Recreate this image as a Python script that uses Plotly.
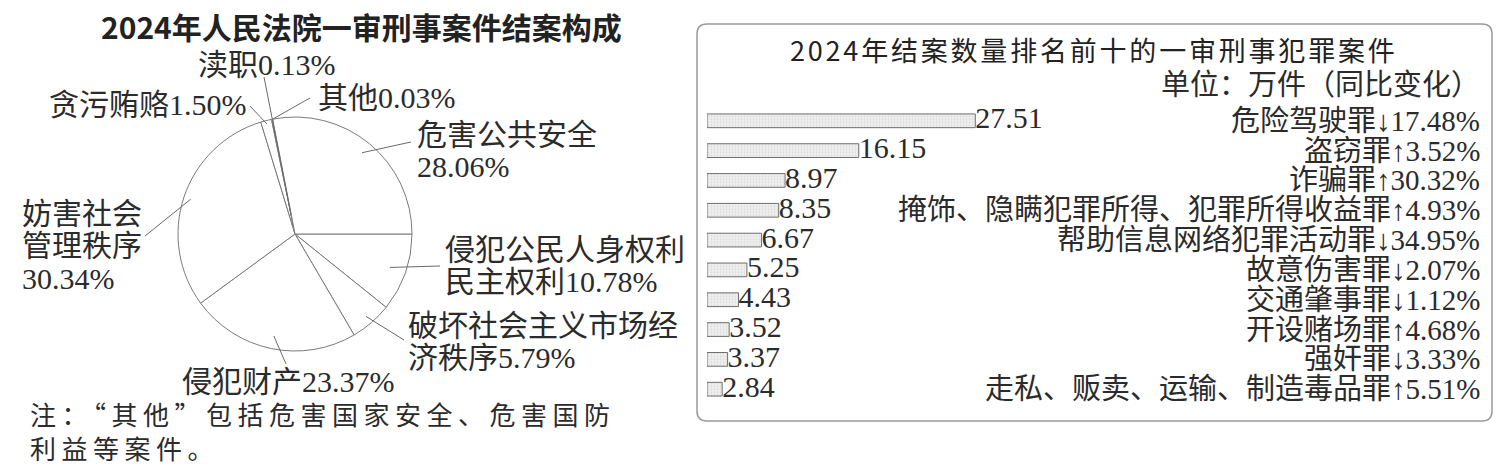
import math
import plotly.graph_objects as go

W, H = 1506, 466

# ---- data: left pie (share of first-instance criminal cases closed, %),
# listed clockwise starting from 3 o'clock
pie_labels = ["侵犯公民人身权利民主权利", "破坏社会主义市场经济秩序", "侵犯财产",
              "妨害社会管理秩序", "贪污贿赂", "渎职", "其他", "危害公共安全"]
pie_values = [10.78, 5.79, 23.37, 30.34, 1.50, 0.13, 0.03, 28.06]

# ---- data: right bars (top 10 crimes, 万件, yoy %)
crime_names = ["危险驾驶罪", "盗窃罪", "诈骗罪", "掩饰、隐瞒犯罪所得、犯罪所得收益罪",
               "帮助信息网络犯罪活动罪", "故意伤害罪", "交通肇事罪", "开设赌场罪",
               "强奸罪", "走私、贩卖、运输、制造毒品罪"]
case_counts = [27.51, 16.15, 8.97, 8.35, 6.67, 5.25, 4.43, 3.52, 3.37, 2.84]
yoy_change = [-17.48, 3.52, 30.32, 4.93, -34.95, -2.07, -1.12, 4.68, -3.33, 5.51]

left_title = "2024年人民法院一审刑事案件结案构成"
right_title = "2024年结案数量排名前十的一审刑事犯罪案件"
unit_text = "单位：万件（同比变化）"
note_lines = ["注：“其他”包括危害国家安全、危害国防", "利益等案件。"]

# ---- layout helpers (pixel -> paper)
def px(x):
    return x / W

def py(y):
    return 1 - y / H

def spaced(t, sp):
    return f"<span style='letter-spacing:{sp}px'>{t}</span>"

SERIF = "Liberation Serif, Noto Sans CJK SC"
SANS = "Noto Sans CJK SC"
INK = "#2b2b2b"
GRID = "#7a7a7a"

# pie geometry
cx, cy, R = 295, 234, 117

# label layout for pie (same order as pie_labels): left x / first-line y,
# where to wrap, leader outer end, leader inner radius fraction
pie_label_pos = [(443, 249), (406, 325), (180, 381), (20, 213),
                 (47, 104), (196, 64), (316, 97), (415, 134)]
pie_label_breaks = [[8], [9], [], [4, 8], [], [], [], [6]]
line_h = 32.5
leader_outer = [(440, 266), (404, 340), (286, 364), (145, 236),
                (250, 106), (264, 77), (310, 98), (411, 142)]
leader_r = [0.86, 0.93, 0.89, 0.94, 0.97, 0.17, 1.0, 0.9]

fig = go.Figure()

fig.add_trace(go.Pie(
    labels=pie_labels,
    values=pie_values,
    sort=False,
    direction="clockwise",
    rotation=90,
    textinfo="none",
    hoverinfo="label+percent",
    marker=dict(colors=["white"] * len(pie_values), line=dict(color=GRID, width=1)),
    domain=dict(x=[px(cx - R), px(cx + R)], y=[py(cy + R), py(cy - R)]),
    showlegend=False,
))

annotations = []
shapes = []

# pie labels + leader lines
total = sum(pie_values)
angle = 90.0
for i, (name, v) in enumerate(zip(pie_labels, pie_values)):
    span = v / total * 360
    mid = angle + span / 2
    angle += span
    full = name + f"{v:.2f}%"
    cuts = [0] + pie_label_breaks[i] + [len(full)]
    lx, ly = pie_label_pos[i]
    for k in range(len(cuts) - 1):
        annotations.append(dict(
            x=px(lx), y=py(ly + k * line_h), xref="paper", yref="paper",
            xanchor="left", yanchor="middle", showarrow=False,
            text=full[cuts[k]:cuts[k + 1]],
            font=dict(family=SERIF, size=30, color=INK),
        ))
    a = math.radians(mid)
    ix = cx + leader_r[i] * R * math.sin(a)
    iy = cy - leader_r[i] * R * math.cos(a)
    ox, oy = leader_outer[i]
    shapes.append(dict(type="line", xref="paper", yref="paper",
                       x0=px(ix), y0=py(iy), x1=px(ox), y1=py(oy),
                       line=dict(color="#6a6a6a", width=1)))

annotations.append(dict(
    x=px(361), y=py(26), xref="paper", yref="paper", showarrow=False,
    xanchor="center", yanchor="middle",
    text="<b>" + left_title + "</b>", font=dict(family=SANS, size=30, color="#222"),
))
# two-line note as one text block
annotations.append(dict(
    x=px(28), y=py(430), xref="paper", yref="paper",
    xanchor="left", yanchor="middle", align="left", showarrow=False,
    text="<br>".join(spaced(t, 5.5) for t in note_lines),
    font=dict(family=SANS, size=26, color=INK),
))

# ---- right panel
X0 = 1.36             # axis start (bars are drawn from here)
unit_px = 10.26       # pixels per 万件
bar_left, bar_right = 707, 1482
x_max = X0 + (bar_right - bar_left) / unit_px
row_top, row_bot = 102.8, 407.2

fig.add_trace(go.Bar(
    x=[v - X0 for v in case_counts],
    base=X0,
    y=crime_names,
    orientation="h",
    marker=dict(
        color="#eeeeee",
        line=dict(color="#6e6e6e", width=1),
        pattern=dict(shape=".", fgcolor="#c4c4c4", bgcolor="#f0f0f0", size=3, solidity=0.3),
    ),
    hovertext=[f"{n}: {v:.2f}" for n, v in zip(crime_names, case_counts)],
    hoverinfo="text",
    showlegend=False,
))

fig.add_trace(go.Scatter(
    x=case_counts,
    y=crime_names,
    mode="text",
    text=[f"{v:.2f}" for v in case_counts],
    textposition="middle right",
    textfont=dict(family=SERIF, size=30, color=INK),
    cliponaxis=False,
    hoverinfo="skip",
    showlegend=False,
))

for name, c in zip(crime_names, yoy_change):
    arrow = "↓" if c < 0 else "↑"
    annotations.append(dict(
        x=px(1482), y=name, xref="paper", yref="y",
        xanchor="right", yanchor="middle", showarrow=False,
        text=f"{name}{arrow}{abs(c):.2f}%",
        font=dict(family=SERIF, size=29, color=INK),
    ))

annotations.append(dict(
    x=px(1094), y=py(50), xref="paper", yref="paper", showarrow=False,
    xanchor="center", yanchor="middle",
    text=spaced(right_title, 2.8), font=dict(family=SANS, size=27, color="#222"),
))
annotations.append(dict(
    x=px(1482), y=py(85), xref="paper", yref="paper", xanchor="right",
    yanchor="middle", showarrow=False, text=unit_text,
    font=dict(family=SERIF, size=29, color=INK),
))

# rounded frame round the right chart
bx0, by0, bx1, by1, rr = 697, 24, 1492, 421, 10
def P(x, y):
    return f"{px(x):.6f},{py(y):.6f}"
frame = (f"M {P(bx0 + rr, by0)} L {P(bx1 - rr, by0)} Q {P(bx1, by0)} {P(bx1, by0 + rr)} "
         f"L {P(bx1, by1 - rr)} Q {P(bx1, by1)} {P(bx1 - rr, by1)} "
         f"L {P(bx0 + rr, by1)} Q {P(bx0, by1)} {P(bx0, by1 - rr)} "
         f"L {P(bx0, by0 + rr)} Q {P(bx0, by0)} {P(bx0 + rr, by0)} Z")
shapes.append(dict(type="path", xref="paper", yref="paper", path=frame,
                   line=dict(color="#9a9a9a", width=1.5)))

fig.update_layout(
    width=W, height=H,
    margin=dict(l=0, r=0, t=0, b=0),
    paper_bgcolor="white", plot_bgcolor="rgba(0,0,0,0)",
    xaxis=dict(domain=[px(bar_left), px(bar_right)], range=[X0, x_max], visible=False),
    yaxis=dict(domain=[py(row_bot), py(row_top)], categoryorder="array",
               categoryarray=crime_names, autorange="reversed", visible=False),
    bargap=0.54,
    annotations=annotations,
    shapes=shapes,
    showlegend=False,
)

# no page margin, so the figure sits at the window's top-left corner
fig.write_html("out.html", config={"displayModeBar": False},
               post_script="document.body.style.margin='0';")
